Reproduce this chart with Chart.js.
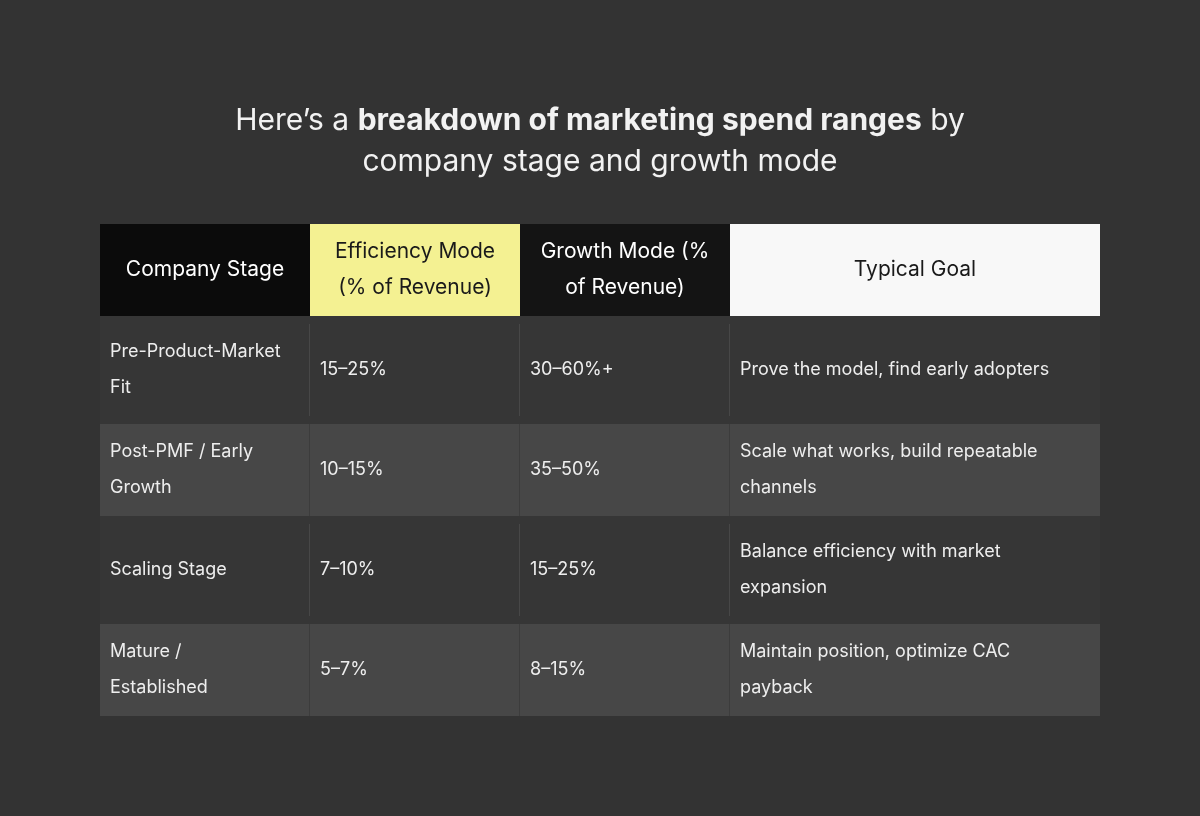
<!DOCTYPE html>
<html>
<head>
<meta charset="utf-8">
<script src="https://cdn.jsdelivr.net/npm/chart.js@4.4.1/dist/chart.umd.min.js"></script>
<style>
  html, body { margin: 0; padding: 0; background: #333333; }
  #wrap { width: 1200px; height: 816px; }
</style>
</head>
<body>
<div id="wrap"><canvas id="tableChart"></canvas></div>
<script>
// table content
const headers = [['Company Stage'], ['Efficiency Mode', '(% of Revenue)'], ['Growth Mode (%', 'of Revenue)'], ['Typical Goal']];
const stages = [['Pre-Product-Market', 'Fit'], ['Post-PMF / Early', 'Growth'], ['Scaling Stage'], ['Mature /', 'Established']];
const efficiency = ['15–25%', '10–15%', '7–10%', '5–7%'];
const growth = ['30–60%+', '35–50%', '15–25%', '8–15%'];
const goals = [['Prove the model, find early adopters'], ['Scale what works, build repeatable', 'channels'], ['Balance efficiency with market', 'expansion'], ['Maintain position, optimize CAC', 'payback']];

// layout (in scale units)
const colEdges = [100, 310, 520, 730, 1100];
const rowEdges = [224, 316, 424, 516, 624, 716];
const headerFill = ['#0b0b0b', '#f4f192', '#141414', '#f8f8f8'];
const headerText = ['#ffffff', '#1a1a1a', '#ffffff', '#1a1a1a'];
const rowFill = ['#363636', '#474747'];
const FONT = 'Inter, "Noto Sans", sans-serif';

const tablePlugin = {
  id: 'tablePlugin',
  afterDraw(chart) {
    const ctx = chart.ctx, xs = chart.scales.x, ys = chart.scales.y;
    const X = v => xs.getPixelForValue(v), Y = v => ys.getPixelForValue(v);
    ctx.save();
    ctx.fillStyle = '#333333';
    ctx.fillRect(0, 0, chart.width, chart.height);

    // title
    ctx.textBaseline = 'middle';
    ctx.fillStyle = '#f2f2f2';
    const parts = [['Here’s a ', '400'], ['breakdown of marketing spend ranges', '700'], [' by', '400']];
    let total = 0;
    parts.forEach(p => { ctx.font = p[1] + ' 30px ' + FONT; total += ctx.measureText(p[0]).width; });
    let tx = X(600) - total / 2;
    parts.forEach(p => {
      ctx.font = p[1] + ' 30px ' + FONT;
      ctx.textAlign = 'left';
      ctx.fillText(p[0], tx, Y(121));
      tx += ctx.measureText(p[0]).width;
    });
    ctx.font = '400 30px ' + FONT;
    ctx.textAlign = 'center';
    ctx.fillText('company stage and growth mode', X(600), Y(162));

    // header
    for (let c = 0; c < 4; c++) {
      ctx.fillStyle = headerFill[c];
      ctx.fillRect(X(colEdges[c]), Y(rowEdges[0]), X(colEdges[c + 1]) - X(colEdges[c]), Y(rowEdges[1]) - Y(rowEdges[0]));
      ctx.fillStyle = headerText[c];
      ctx.font = '400 21px ' + FONT;
      ctx.textAlign = 'center';
      const lines = headers[c];
      const cx = (X(colEdges[c]) + X(colEdges[c + 1])) / 2;
      const cy = (Y(rowEdges[0]) + Y(rowEdges[1])) / 2;
      lines.forEach((l, i) => ctx.fillText(l, cx, cy + (i - (lines.length - 1) / 2) * 36));
    }

    // body rows
    for (let r = 0; r < 4; r++) {
      const y0 = Y(rowEdges[r + 1]), y1 = Y(rowEdges[r + 2]);
      ctx.fillStyle = rowFill[r % 2];
      ctx.fillRect(X(colEdges[0]), y0, X(colEdges[4]) - X(colEdges[0]), y1 - y0);
      const inset = r % 2 === 0 ? 8 : 0;
      ctx.strokeStyle = r % 2 === 0 ? '#474747' : '#3c3c3c';
      ctx.lineWidth = 1;
      for (let c = 1; c < 4; c++) {
        const lx = Math.round(X(colEdges[c])) - 0.5;
        ctx.beginPath();
        ctx.moveTo(lx, y0 + inset);
        ctx.lineTo(lx, y1 - inset);
        ctx.stroke();
      }
      const cells = [stages[r], [efficiency[r]], [growth[r]], goals[r]];
      const cy = (y0 + y1) / 2;
      ctx.fillStyle = '#eeeeee';
      ctx.font = '400 18px ' + FONT;
      ctx.textAlign = 'left';
      cells.forEach((lines, c) => {
        lines.forEach((l, i) => ctx.fillText(l, X(colEdges[c]) + 10, cy + (i - (lines.length - 1) / 2) * 36));
      });
    }
    ctx.restore();
  }
};

new Chart(document.getElementById('tableChart'), {
  type: 'scatter',
  data: { datasets: [{ data: [] }] },
  options: {
    responsive: true,
    maintainAspectRatio: false,
    animation: false,
    layout: { padding: 0 },
    plugins: { legend: { display: false }, tooltip: { enabled: false } },
    scales: {
      x: { type: 'linear', min: 0, max: 1200, display: false },
      y: { type: 'linear', min: 0, max: 816, reverse: true, display: false }
    }
  },
  plugins: [tablePlugin]
});
</script>
</body>
</html>
